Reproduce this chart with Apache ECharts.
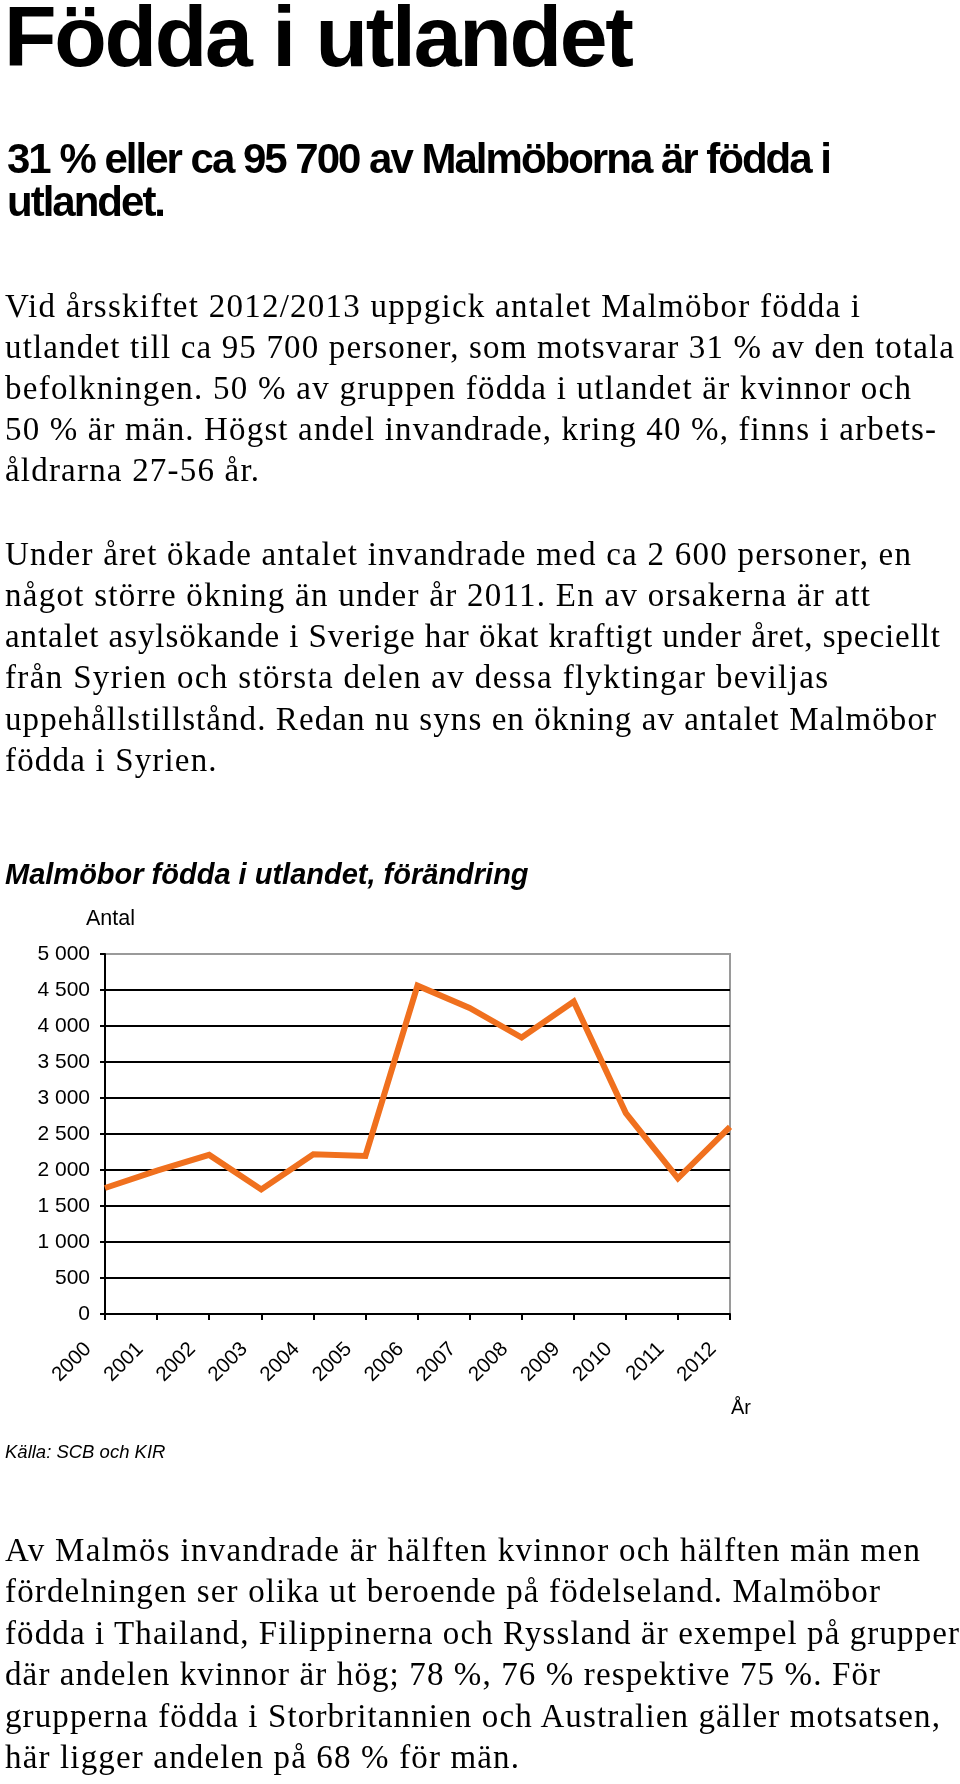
<!DOCTYPE html>
<html><head><meta charset="utf-8">
<script src="https://cdn.jsdelivr.net/npm/echarts/dist/echarts.min.js"></script>
<style>
html,body{margin:0;padding:0;background:#fff;}
#page{position:relative;width:960px;height:1784px;overflow:hidden;background:#fff;}
#chart{position:absolute;left:0;top:0;width:960px;height:1784px;}
.ln{position:absolute;white-space:nowrap;line-height:1;color:#000;}
</style>
</head><body>
<div id="page"><div id="chart"></div></div>
<script>
// ---- chart data ----
const years = ['2000','2001','2002','2003','2004','2005','2006','2007','2008','2009','2010','2011','2012'];
const changeValues = [1750, 1990, 2210, 1730, 2220, 2195, 4560, 4250, 3840, 4340, 2790, 1885, 2600];
const yMin = 0;
const yMax = 5000;
const yStep = 500;
const chartTitle = 'Malmöbor födda i utlandet, förändring';
const yAxisName = 'Antal';
const xAxisName = 'År';
const sourceText = 'Källa: SCB och KIR';

// ---- page text ----
const headline = 'Födda i utlandet';
const subLines = ['31 % eller ca 95 700 av Malmöborna är födda i', 'utlandet.'];
const para1 = [
  'Vid årsskiftet 2012/2013 uppgick antalet Malmöbor födda i',
  'utlandet till ca 95 700 personer, som motsvarar 31 % av den totala',
  'befolkningen. 50 % av gruppen födda i utlandet är kvinnor och',
  '50 % är män. Högst andel invandrade, kring 40 %, finns i arbets-',
  'åldrarna 27-56 år.'
];
const para2 = [
  'Under året ökade antalet invandrade med ca 2 600 personer, en',
  'något större ökning än under år 2011. En av orsakerna är att',
  'antalet asylsökande i Sverige har ökat kraftigt under året, speciellt',
  'från Syrien och största delen av dessa flyktingar beviljas',
  'uppehållstillstånd. Redan nu syns en ökning av antalet Malmöbor',
  'födda i Syrien.'
];
const para3 = [
  'Av Malmös invandrade är hälften kvinnor och hälften män men',
  'fördelningen ser olika ut beroende på födelseland. Malmöbor',
  'födda i Thailand, Filippinerna och Ryssland är exempel på grupper',
  'där andelen kvinnor är hög; 78 %, 76 % respektive 75 %. För',
  'grupperna födda i Storbritannien och Australien gäller motsatsen,',
  'här ligger andelen på 68 % för män.'
];

// ---- layout (positions / styles) ----
const SANS = '"Liberation Sans", Arial, Helvetica, sans-serif';
const SERIF = '"Liberation Serif", "Times New Roman", serif';
const K = {sans: 0.8465, serif: 0.8375};
const page = document.getElementById('page');

function makeLine(text, x, base, fam, size, weight, style) {
  const d = document.createElement('div');
  d.className = 'ln';
  d.textContent = text;
  d.style.fontFamily = fam === 'sans' ? SANS : SERIF;
  d.style.fontSize = size + 'px';
  d.style.fontWeight = weight || 'normal';
  d.style.fontStyle = style || 'normal';
  d.style.left = x + 'px';
  d.style.top = (base - K[fam] * size) + 'px';
  page.appendChild(d);
  return d;
}
function fitGroup(items) {
  const spacings = [];
  items.forEach(it => {
    if (it.r) {
      const w = it.el.getBoundingClientRect().width;
      const n = it.el.textContent.length;
      const ls = (it.r - it.x - w) / (n - 1);
      it.el.style.letterSpacing = ls + 'px';
      spacings.push(ls);
    }
  });
  const avg = spacings.reduce((a, b) => a + b, 0) / Math.max(1, spacings.length);
  items.forEach(it => { if (!it.r) it.el.style.letterSpacing = avg + 'px'; });
}

// headline
fitGroup([{el: makeLine(headline, 4, 66, 'sans', 86, 'bold'), x: 4, r: 634}]);
// sub headline
fitGroup([
  {el: makeLine(subLines[0], 7, 174, 'sans', 42, 'bold'), x: 7, r: 832},
  {el: makeLine(subLines[1], 7, 217, 'sans', 42, 'bold'), x: 7}
]);
function para(lines, bases, rights) {
  fitGroup(lines.map((t, i) => ({el: makeLine(t, 5, bases[i], 'serif', 33), x: 5, r: rights[i]})));
}
para(para1, [318, 359, 400, 441, 482], [860, 954, 911, 936, null]);
para(para2, [566, 607, 648, 689, 731, 772], [911, 870, 940, 828, 936, null]);
para(para3, [1562, 1603, 1645, 1686, 1728, 1769], [920, 880, 959, 880, 940, null]);

// ---- chart ----
function fmt(v) {
  if (v >= 1000) { return Math.floor(v / 1000) + ' ' + String(v % 1000).padStart(3, '0'); }
  return String(v);
}
const splitColors = [];
for (let v = yMin; v <= yMax; v += yStep) splitColors.push(v === yMax ? '#9a9a9a' : '#000');

const chart = echarts.init(document.getElementById('chart'), null, {renderer: 'canvas'});
chart.setOption({
  animation: false,
  backgroundColor: 'transparent',
  title: {
    text: chartTitle, left: 5, top: 861, padding: 0,
    textStyle: {fontFamily: SANS, fontWeight: 'bold', fontStyle: 'italic', fontSize: 29, color: '#000'}
  },
  grid: {left: 105, top: 954, width: 625, height: 360, show: true, borderColor: '#9a9a9a', borderWidth: 2, containLabel: false},
  xAxis: {
    type: 'category', data: years, boundaryGap: false,
    axisLine: {show: true, lineStyle: {color: '#000', width: 2}},
    axisTick: {show: true, length: 6, inside: false, lineStyle: {color: '#000', width: 2}},
    axisLabel: {rotate: 45, margin: 15, padding: [0, 24, 0, 0], interval: 0,
      fontFamily: SANS, fontSize: 20.5, color: '#000'},
    splitLine: {show: false}
  },
  yAxis: {
    type: 'value', min: yMin, max: yMax, interval: yStep,
    name: yAxisName, nameLocation: 'end', nameGap: 24,
    nameTextStyle: {fontFamily: SANS, fontSize: 21.5, color: '#000', padding: [0, 0, 0, 11]},
    axisLine: {show: true, lineStyle: {color: '#000', width: 2}},
    axisTick: {show: true, length: 5, inside: false, lineStyle: {color: '#000', width: 2}},
    axisLabel: {margin: 15, fontFamily: SANS, fontSize: 21, color: '#000', formatter: fmt},
    splitLine: {show: true, lineStyle: {color: splitColors, width: 2}}
  },
  graphic: [
    {type: 'text', left: 731, top: 1398, style: {text: xAxisName, font: '20px ' + SANS, fill: '#000'}},
    {type: 'text', left: 5, top: 1443, style: {text: sourceText, font: 'italic 18.5px ' + SANS, fill: '#000'}}
  ],
  series: [{
    type: 'line', data: changeValues, symbol: 'none', smooth: false, z: 5,
    lineStyle: {color: '#F0701E', width: 6, join: 'miter'}
  }]
});
</script>
</body></html>
